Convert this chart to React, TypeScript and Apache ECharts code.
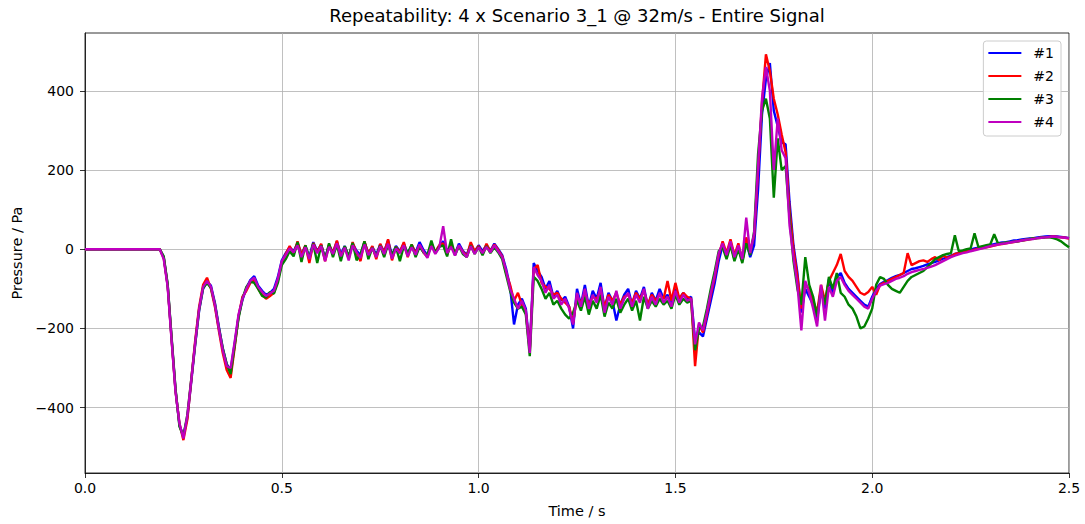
import React, { useEffect, useRef } from "react";
import * as echarts from "echarts";

const TITLE = "Repeatability: 4 x Scenario 3_1 @ 32m/s - Entire Signal";
const X_NAME = "Time / s";
const Y_NAME = "Pressure / Pa";
const SAMPLE_STEP = 0.01;
const X_TICKS = [0, 0.5, 1.0, 1.5, 2.0, 2.5];
const Y_TICKS = [-400, -200, 0, 200, 400];
const SERIES_NAMES = ["#1", "#2", "#3", "#4"];
const SERIES_COLORS = ["#0000ff", "#ff0000", "#008000", "#bf00bf"];

// values sampled every 0.01 s from t = 0.00 to 2.50
const RUN_1 = [
  0, 0, 0, 0, 0, 0, 0, 0, 0, 0, 0, 0, 0, 0, 0, 0, 0, 0, 0, 0,
  -20, -90, -225, -355, -445, -470, -425, -335, -240, -155,
  -100, -82, -92, -135, -195, -250, -290, -305, -240, -170,
  -128, -98, -78, -68, -92, -105, -115, -110, -100, -70,
  -28, -10, 5, -5,
  15, -12, 8, -20, 18, -5, 12, -22, 10, -8,
  20, -12, 8, -20, 14, -4, -15, 18, -10, 6,
  -14, 12, -6, 22, -15, 8, -5, 15, -12, 10,
  -8, 18, -2, -15, 12, -6, 8, 20, -5, 10,
  -12, 14, -4, -14, 12, -6, 10, -5, 10, -4,
  14, 0,
  -15, -50, -95, -190, -140, -125, -150, -250, -35, -55,
  -70, -100, -80, -120, -105, -130, -120, -145, -200, -100,
  -140, -90, -145, -105, -125, -85, -150, -110, -130, -180,
  -140, -115, -100, -140, -105, -125, -95, -145, -110, -130,
  -100, -125, -115, -140, -100, -125, -110, -125, -120, -230,
  -210, -220, -175, -130, -85, -30, 10, -20, 15, -25,
  5, -30, 20, -20, 10, 150, 340, 430, 470, 350,
  310, 270, 265, 120, 10, -60, -160, -100, -120, -140,
  -180, -100, -150, -75, -115, -70, -60, -85, -100, -110,
  -120, -130, -140, -145, -120, -100, -88, -82, -78, -72,
  -68, -65, -60, -55, -50, -48, -45, -42, -38, -35,
  -32, -28, -24, -20, -16, -12, -9, -6, -4, -1,
  2, 4, 6, 8, 11, 13, 15, 17, 18, 20,
  22, 23, 25, 26, 27, 28, 30, 31, 32, 33,
  33, 32, 31, 30, 28,
];

const RUN_2 = [
  0, 0, 0, 0, 0, 0, 0, 0, 0, 0, 0, 0, 0, 0, 0, 0, 0, 0, 0, 0,
  -22, -92, -228, -358, -440, -482, -430, -330, -230, -145,
  -90, -72, -100, -145, -205, -262, -305, -325, -250, -170,
  -120, -105, -85, -75, -100, -115, -125, -118, -110, -78,
  -35, -12, 8, -12,
  20, -15, 10, -35, 16, -8, 14, -30, 12, -10,
  22, -20, 6, -24, 18, -10, -30, 20, -12, 8,
  -25, 14, -10, 25, -28, 6, -8, 18, -20, 12,
  -10, 10, -8, -20, 15, -8, 10, 15, -14, 12,
  -10, 8, -6, -18, 18, -5, 8, -12, 14, -6,
  12, -2,
  -18, -60, -90, -130, -110, -140, -160, -255, -50, -40,
  -85, -95, -100, -115, -110, -125, -135, -145, -185, -120,
  -135, -110, -140, -120, -125, -105, -145, -115, -130, -110,
  -140, -120, -115, -135, -110, -125, -105, -140, -115, -130,
  -115, -125, -80, -130, -85, -125, -110, -120, -125, -295,
  -190, -210, -165, -115, -70, -15, 20, -10, 25, -15,
  15, -30, 30, -5, 35, 200, 370, 492, 450, 380,
  340, 290, 245, 100, 0, -70, -150, -90, -100, -130,
  -160, -90, -130, -80, -60, -40, -12, -55, -70, -80,
  -95, -110, -115, -108, -95, -115, -90, -85, -80, -75,
  -70, -65, -60, -10, -40, -35, -30, -28, -32, -25,
  -20, -28, -15, -22, -18, -12, -10, -8, -5, -4,
  -1, 2, 3, 5, 7, 9, 12, 13, 15, 17,
  18, 20, 22, 23, 25, 27, 28, 29, 30, 31,
  32, 31, 30, 29, 27,
];

const RUN_3 = [
  0, 0, 0, 0, 0, 0, 0, 0, 0, 0, 0, 0, 0, 0, 0, 0, 0, 0, 0, 0,
  -18, -88, -222, -352, -448, -472, -418, -328, -238, -152,
  -98, -85, -98, -138, -198, -250, -290, -315, -245, -175,
  -125, -95, -82, -85, -100, -118, -122, -108, -112, -85,
  -40, -25, -5, -18,
  18, -32, 10, -22, 14, -35, 10, -26, 15, -20,
  12, -30, 8, -18, 16, -28, -12, 20, -25, 4,
  -18, 10, -20, 12, -15, 6, -30, 8, -10, 12,
  -20, 6, -8, -15, 22, -10, 6, 10, -18, 25,
  -15, 8, -12, -20, 10, -12, 6, -15, 8, -10,
  5, -8,
  -25, -65, -105, -135, -150, -145, -165, -270, -70, -80,
  -100, -125, -110, -140, -130, -150, -165, -175, -160, -130,
  -155, -120, -165, -130, -150, -115, -170, -135, -150, -125,
  -160, -140, -125, -155, -130, -180, -120, -150, -130, -145,
  -125, -140, -130, -150, -115, -140, -125, -135, -130, -255,
  -200, -195, -150, -100, -55, -5, 5, -25, 10, -30,
  0, -35, 15, -15, 45, 240, 350, 380, 330, 130,
  280, 200, 210, 80, -30, -100, -140, -20, -90, -120,
  -170, -100, -140, -70, -100, -60, -110, -120, -140, -150,
  -170, -200, -195, -175, -150, -90, -70, -75, -90, -100,
  -105, -110, -95, -80, -70, -65, -60, -55, -45, -35,
  -25, -20, -15, -12, -10, 35, -5, -3, 0, 2,
  40, 5, 8, 10, 12, 38, 14, 15, 17, 18,
  19, 20, 22, 24, 26, 27, 28, 29, 30, 30,
  28, 25, 20, 12, 5,
];

const RUN_4 = [
  0, 0, 0, 0, 0, 0, 0, 0, 0, 0, 0, 0, 0, 0, 0, 0, 0, 0, 0, 0,
  -25, -95, -230, -360, -440, -478, -420, -330, -235, -150,
  -95, -80, -95, -140, -200, -255, -295, -300, -235, -165,
  -125, -100, -80, -72, -95, -108, -118, -112, -105, -75,
  -30, -15, 2, -8,
  10, -20, 5, -25, 12, -10, 8, -30, 6, -12,
  15, -18, 4, -28, 10, -8, -22, 12, -15, 3,
  -20, 8, -12, 14, -24, 2, -10, 10, -18, 5,
  -14, 12, -6, -22, 8, -12, 4, 58, -10, 6,
  -16, 10, -8, -20, 8, -12, 5, -10, 6, -8,
  10, -5,
  -20, -55, -100, -125, -150, -130, -155, -262, -45, -65,
  -80, -110, -90, -125, -115, -140, -125, -150, -190, -110,
  -145, -100, -150, -115, -135, -95, -160, -120, -140, -105,
  -150, -125, -110, -145, -115, -135, -100, -150, -120, -140,
  -110, -135, -120, -145, -105, -135, -115, -130, -125, -240,
  -185, -205, -160, -110, -65, -10, 15, -15, 20, -20,
  10, -25, 80, -10, 40, 210, 380, 460, 400, 200,
  330, 250, 230, 60, -20, -90, -205, -80, -110, -150,
  -195, -90, -180, -95, -120, -80, -70, -90, -105, -115,
  -125, -135, -145, -150, -125, -105, -92, -88, -85, -80,
  -75, -72, -68, -62, -58, -55, -52, -50, -47, -44,
  -40, -35, -30, -25, -20, -16, -13, -10, -8, -5,
  -3, 0, 2, 5, 8, 10, 12, 14, 15, 17,
  19, 20, 22, 24, 25, 26, 28, 29, 30, 31,
  32, 31, 30, 29, 28,
];

const RUNS = [RUN_1, RUN_2, RUN_3, RUN_4];

const FONT = "DejaVu Sans";
const minus = (v: number, digits: number) => {
  const s = Math.abs(v).toFixed(digits);
  return v < 0 ? "\u2212" + s : s;
};

export default function App() {
  const ref = useRef<HTMLDivElement>(null);

  useEffect(() => {
    document.body.style.margin = "0";
    if (!ref.current) return;
    const chart = echarts.init(ref.current, undefined, { renderer: "svg" });

    const series = RUNS.map((run, k) => ({
      name: SERIES_NAMES[k],
      type: "line",
      data: run.map((v, i) => [i * SAMPLE_STEP, v]),
      showSymbol: false,
      symbol: "none",
      color: SERIES_COLORS[k],
      lineStyle: { color: SERIES_COLORS[k], width: 2.4 },
      itemStyle: { color: SERIES_COLORS[k] },
      z: 2 + k,
    }));

    chart.setOption({
      animation: false,
      textStyle: { fontFamily: FONT },
      title: {
        text: TITLE,
        left: 577,
        top: 6,
        textAlign: "center",
        padding: 0,
        textStyle: { fontSize: 18, fontWeight: "normal", color: "#000", fontFamily: FONT },
      },
      legend: {
        orient: "vertical",
        right: 24,
        top: 41,
        icon: "rect",
        itemWidth: 33,
        itemHeight: 2,
        itemGap: 7,
        padding: [4, 7, 6, 5],
        backgroundColor: "rgba(255,255,255,0.8)",
        borderColor: "#cccccc",
        borderWidth: 1,
        borderRadius: 3,
        textStyle: { fontSize: 14, color: "#000", fontFamily: FONT, lineHeight: 16, padding: [0, 0, 0, 7] },
        data: SERIES_NAMES,
      },
      grid: {
        left: 85,
        right: 16,
        top: 33,
        bottom: 51,
        show: true,
        borderColor: "#000",
        borderWidth: 0.8,
        backgroundColor: "transparent",
      },
      xAxis: {
        type: "value",
        min: X_TICKS[0],
        max: X_TICKS[X_TICKS.length - 1],
        interval: 0.5,
        name: X_NAME,
        nameLocation: "middle",
        nameGap: 30,
        nameTextStyle: { fontSize: 14.5, color: "#000", fontFamily: FONT },
        axisLine: { show: true, onZero: false, lineStyle: { color: "#000", width: 0.8 } },
        axisTick: { show: true, inside: false, length: 5, lineStyle: { color: "#000", width: 0.8 } },
        axisLabel: {
          fontSize: 14,
          color: "#000",
          margin: 8,
          fontFamily: FONT,
          formatter: (v: number) => minus(v, 1),
        },
        splitLine: { show: true, lineStyle: { color: "#b0b0b0", width: 0.8 } },
      },
      yAxis: {
        type: "value",
        min: -565,
        max: 546,
        name: Y_NAME,
        nameLocation: "middle",
        nameGap: 58,
        nameRotate: 90,
        nameTextStyle: { fontSize: 14.5, color: "#000", fontFamily: FONT },
        axisLine: { show: true, onZero: false, lineStyle: { color: "#000", width: 0.8 } },
        axisTick: {
          show: true,
          inside: false,
          length: 5,
          customValues: Y_TICKS,
          lineStyle: { color: "#000", width: 0.8 },
        },
        axisLabel: {
          fontSize: 14,
          color: "#000",
          margin: 11,
          fontFamily: FONT,
          customValues: Y_TICKS,
          formatter: (v: number) => minus(v, 0),
        },
        splitLine: { show: true, lineStyle: { color: "#b0b0b0", width: 0.8 } },
      },
      series,
    });

    return () => chart.dispose();
  }, []);

  return <div ref={ref} style={{ width: 1085, height: 524 }} />;
}
